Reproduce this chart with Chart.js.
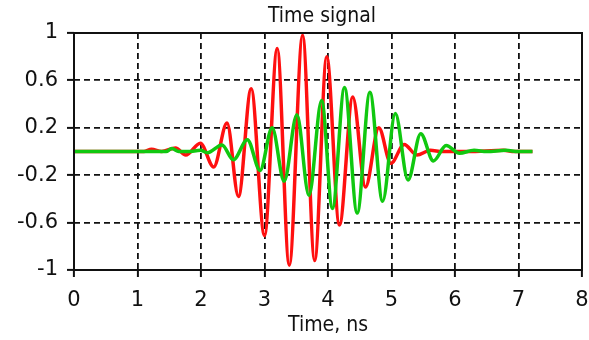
<!DOCTYPE html>
<html>
<head>
<meta charset="utf-8">
<script src="https://cdn.jsdelivr.net/npm/chart.js@4/dist/chart.umd.min.js"></script>
<style>
  html, body { margin: 0; padding: 0; background: #ffffff; }
  canvas { display: block; }
</style>
</head>
<body>
<canvas id="chart" width="589" height="340"></canvas>
<script>
// Red trace: sample times (ns) and amplitudes at its turning points
const redTime  = [0, 1.1, 1.22, 1.38, 1.6, 1.76, 1.99, 2.2, 2.41, 2.59, 2.79, 3.0, 3.2, 3.39, 3.6, 3.79, 3.98, 4.18, 4.39, 4.59, 4.8, 4.99, 5.2, 5.4, 5.61, 5.8, 6.2, 6.77, 6.9, 7.22];
const redValue = [0, 0, 0.02, 0, 0.03, -0.03, 0.07, -0.13, 0.24, -0.38, 0.53, -0.71, 0.87, -0.96, 0.98, -0.92, 0.80, -0.62, 0.46, -0.30, 0.20, -0.10, 0.06, -0.03, 0.01, 0, 0, 0.01, 0, 0];

// Green trace: sample times (ns) and amplitudes at its turning points
const greenTime  = [0, 1.3, 1.45, 1.54, 1.65, 1.8, 1.99, 2.1, 2.33, 2.51, 2.73, 2.93, 3.12, 3.31, 3.51, 3.70, 3.90, 4.07, 4.26, 4.46, 4.66, 4.86, 5.06, 5.26, 5.46, 5.66, 5.86, 6.07, 6.3, 6.5, 6.8, 7.0, 7.22];
const greenValue = [0, 0, 0, 0.025, 0, 0, 0.01, -0.01, 0.055, -0.07, 0.10, -0.16, 0.20, -0.25, 0.31, -0.37, 0.43, -0.48, 0.54, -0.52, 0.50, -0.42, 0.32, -0.24, 0.15, -0.08, 0.05, -0.015, 0.01, 0, 0.01, 0, 0];

// Axis tick labels
const xTickLabels = [0, 1, 2, 3, 4, 5, 6, 7, 8];
const yTickLabels = [1, 0.6, 0.2, -0.2, -0.6, -1];

const chartTitle = 'Time signal';
const xAxisTitle = 'Time, ns';

const toPoints = (ts, vs) => ts.map((t, i) => ({ x: t, y: vs[i] }));

const FONT = "'DejaVu Sans', Verdana, sans-serif";
const FONT_C = "'DejaVu Sans Condensed', 'DejaVu Sans', Tahoma, sans-serif";

// Solid frame around the plotting area, plus the title above it
const framePlugin = {
  id: 'frame',
  afterDraw(chart) {
    const { ctx, chartArea: a } = chart;
    ctx.save();
    ctx.strokeStyle = '#111';
    ctx.lineWidth = 2;
    ctx.setLineDash([]);
    ctx.strokeRect(a.left, a.top, a.right - a.left, a.bottom - a.top);

    ctx.fillStyle = '#111';
    ctx.font = '21px ' + FONT_C;
    ctx.textAlign = 'center';
    ctx.textBaseline = 'alphabetic';
    ctx.fillText(chartTitle, (a.left + a.right) / 2 - 6, 22);
    ctx.restore();
  }
};

const gridStyle = {
  color: '#111',
  lineWidth: 1.8,
  tickLength: 7,
  tickColor: '#111',
  tickWidth: 2,
  tickBorderDash: []
};

new Chart(document.getElementById('chart'), {
  type: 'line',
  data: {
    datasets: [
      {
        label: 'red',
        data: toPoints(redTime, redValue),
        borderColor: '#ff1010',
        borderWidth: 3.5,
        pointRadius: 0,
        cubicInterpolationMode: 'monotone',
        order: 1
      },
      {
        label: 'green',
        data: toPoints(greenTime, greenValue),
        borderColor: '#10c810',
        borderWidth: 3.5,
        pointRadius: 0,
        cubicInterpolationMode: 'monotone',
        order: 0
      }
    ]
  },
  options: {
    responsive: false,
    animation: false,
    layout: { padding: { left: 0, right: 7, top: 33, bottom: 0 } },
    plugins: {
      legend: { display: false },
      tooltip: { enabled: false },
      title: { display: false }
    },
    scales: {
      x: {
        type: 'linear',
        min: 0,
        max: 8,
        afterFit(scale) {
          scale.height = 70;
          scale.paddingLeft = 0;
          scale.paddingRight = 0;
        },
        ticks: {
          stepSize: 1,
          color: '#111',
          font: { family: FONT, size: 21 },
          padding: 11,
          maxRotation: 0,
          callback: (v) => xTickLabels.includes(v) ? String(v) : ''
        },
        grid: gridStyle,
        border: { display: false, dash: [6, 4] },
        title: {
          display: true,
          text: xAxisTitle,
          color: '#111',
          font: { family: FONT_C, size: 21 },
          padding: { top: 0, bottom: 2 }
        }
      },
      y: {
        type: 'linear',
        min: -1,
        max: 1,
        afterFit(scale) { scale.width = 74; },
        ticks: {
          stepSize: 0.2,
          color: '#111',
          font: { family: FONT, size: 21 },
          padding: 9,
          callback: (v) => {
            const r = Math.round(v * 10) / 10;
            return yTickLabels.includes(r) ? String(r) : '';
          }
        },
        grid: gridStyle,
        border: { display: false, dash: [6, 4] }
      }
    }
  },
  plugins: [framePlugin]
});
</script>
</body>
</html>
